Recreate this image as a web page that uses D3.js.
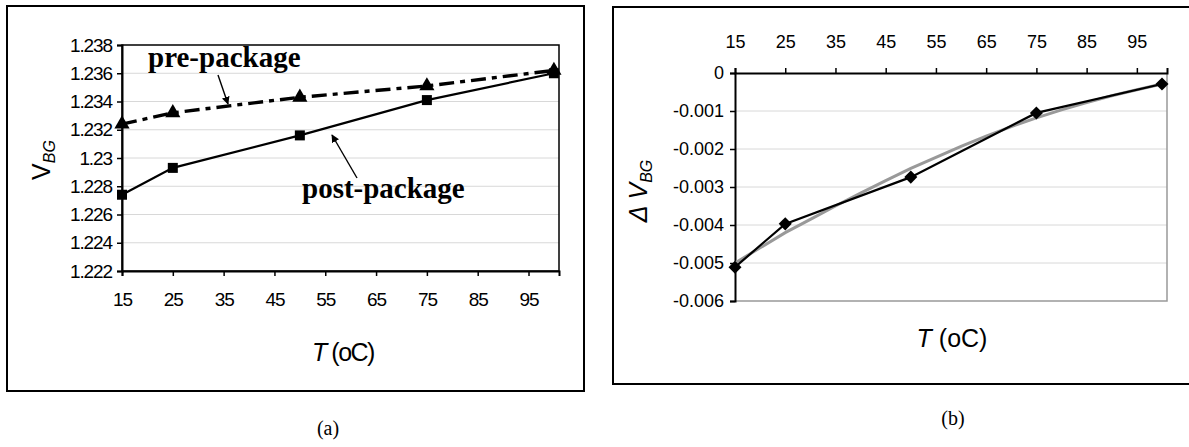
<!DOCTYPE html>
<html>
<head>
<meta charset="utf-8">
<script src="https://cdn.jsdelivr.net/npm/d3@7"></script>
<style>
  body { margin: 0; background: #fff; }
  svg { display: block; }
  .tick text { fill: #000; }
</style>
</head>
<body>
<div id="chart"></div>
<script>
// Chart data
const temps = [15, 25, 50, 75, 100];
const prePackage = [1.2324, 1.2332, 1.2343, 1.2351, 1.2362];
const postPackage = [1.2274, 1.2293, 1.2316, 1.2341, 1.2360];
const deltaVbg = [-0.00511, -0.00397, -0.00274, -0.00105, -0.00029];
// grey fitted curve
const fitTemps = [15, 20, 25, 30, 35, 40, 45, 50, 55, 60, 65, 70, 75, 80, 85, 90, 95, 100];
const fitVals = [-0.00500, -0.00460, -0.00420, -0.00385, -0.00350, -0.00316, -0.00283, -0.00251,
  -0.00222, -0.00193, -0.00166, -0.00141, -0.00118, -0.00097, -0.00078, -0.00060, -0.00044, -0.00029];
const xTicks = [15, 25, 35, 45, 55, 65, 75, 85, 95];
const yTicksA = [1.222, 1.224, 1.226, 1.228, 1.23, 1.232, 1.234, 1.236, 1.238];
const yTicksB = [-0.006, -0.005, -0.004, -0.003, -0.002, -0.001, 0];

const width = 1189;
const height = 447;

const svg = d3.select("#chart")
  .append("svg")
  .attr("width", width)
  .attr("height", height);

// outer frames
svg.append("rect").attr("x", 7).attr("y", 6).attr("width", 577).attr("height", 385)
  .attr("fill", "none").attr("stroke", "#000").attr("stroke-width", 2);
svg.append("rect").attr("x", 613).attr("y", 7).attr("width", 600).attr("height", 377)
  .attr("fill", "none").attr("stroke", "#000").attr("stroke-width", 2);

/*
  Panel (a)
*/
const pa = {left: 122, right: 559, top: 45, bottom: 271};
const xA = d3.scaleLinear().domain([15, 101]).range([pa.left, pa.right]);
const yA = d3.scaleLinear().domain([1.222, 1.238]).range([pa.bottom, pa.top]);

// gridlines
svg.append("g")
  .selectAll("line")
  .data(yTicksA.slice(1, -1))
  .join("line")
    .attr("x1", pa.left).attr("x2", pa.right)
    .attr("y1", d => yA(d)).attr("y2", d => yA(d))
    .attr("stroke", "#d8d8d8").attr("stroke-width", 1);

// plot frame
svg.append("rect").attr("x", pa.left).attr("y", pa.top)
  .attr("width", pa.right - pa.left).attr("height", pa.bottom - pa.top)
  .attr("fill", "none").attr("stroke", "#000").attr("stroke-width", 1.5);

const axAy = svg.append("g")
  .attr("transform", `translate(${pa.left},0)`)
  .call(d3.axisLeft(yA).tickValues(yTicksA).tickFormat(d3.format("")).tickSize(5).tickPadding(5));
axAy.select(".domain").attr("stroke-width", 2);
axAy.selectAll(".tick line").attr("stroke-width", 1.5);
axAy.selectAll("text").attr("font-family", "Liberation Sans, Arial").attr("font-size", 19)
  .attr("letter-spacing", "-1.1px");

const axAx = svg.append("g")
  .attr("transform", `translate(0,${pa.bottom})`)
  .call(d3.axisBottom(xA).tickValues(xTicks).tickSize(5).tickPadding(17));
axAx.select(".domain").attr("stroke-width", 2);
axAx.selectAll(".tick line").attr("stroke-width", 1.5);
axAx.selectAll("text").attr("font-family", "Liberation Sans, Arial").attr("font-size", 19)
  .attr("letter-spacing", "-1.1px");

const lineA = d3.line().x((d, i) => xA(temps[i])).y(d => yA(d));

svg.append("path").datum(prePackage)
  .attr("d", lineA).attr("fill", "none").attr("stroke", "#000")
  .attr("stroke-width", 3.4).attr("stroke-dasharray", "15,6,5,6");
svg.append("path").datum(postPackage)
  .attr("d", lineA).attr("fill", "none").attr("stroke", "#000").attr("stroke-width", 2.2);

svg.append("g").selectAll("path")
  .data(prePackage)
  .join("path")
    .attr("transform", (d, i) => `translate(${xA(temps[i])},${yA(d)})`)
    .attr("d", d3.symbol(d3.symbolTriangle, 100))
    .attr("fill", "#000");
svg.append("g").selectAll("rect")
  .data(postPackage)
  .join("rect")
    .attr("x", (d, i) => xA(temps[i]) - 5)
    .attr("y", d => yA(d) - 5)
    .attr("width", 10).attr("height", 10)
    .attr("fill", "#000");

// annotations
svg.append("text").attr("x", 148).attr("y", 67)
  .attr("font-family", "Liberation Serif, Times New Roman").attr("font-weight", "bold")
  .attr("font-size", 29).text("pre-package");
svg.append("text").attr("x", 302).attr("y", 198)
  .attr("font-family", "Liberation Serif, Times New Roman").attr("font-weight", "bold")
  .attr("font-size", 29).text("post-package");

svg.append("defs").append("marker")
  .attr("id", "arrow").attr("viewBox", "0 0 10 10").attr("refX", 9).attr("refY", 5)
  .attr("markerWidth", 8).attr("markerHeight", 8).attr("markerUnits", "userSpaceOnUse")
  .attr("orient", "auto")
  .append("path").attr("d", "M0,0L10,5L0,10Z").attr("fill", "#000");
svg.append("line").attr("x1", 218).attr("y1", 75).attr("x2", 228).attr("y2", 104)
  .attr("stroke", "#000").attr("stroke-width", 1.4).attr("marker-end", "url(#arrow)");
svg.append("line").attr("x1", 357).attr("y1", 178).attr("x2", 332).attr("y2", 135)
  .attr("stroke", "#000").attr("stroke-width", 1.4).attr("marker-end", "url(#arrow)");

// axis titles
const yLabA = svg.append("text")
  .attr("transform", "translate(50,160) rotate(-90)")
  .attr("text-anchor", "middle")
  .attr("font-family", "Liberation Sans, Arial").attr("font-size", 25);
yLabA.append("tspan").text("V");
yLabA.append("tspan").attr("font-size", 16).attr("font-style", "italic").attr("dy", 5).text("BG");

const xLabA = svg.append("text").attr("x", 343).attr("y", 361)
  .attr("text-anchor", "middle").attr("letter-spacing", "-1.5px")
  .attr("font-family", "Liberation Sans, Arial").attr("font-size", 25);
xLabA.append("tspan").attr("font-style", "italic").text("T");
xLabA.append("tspan").text(" (oC)");

svg.append("text").attr("x", 328).attr("y", 435).attr("text-anchor", "middle")
  .attr("font-family", "Liberation Serif, Times New Roman").attr("font-size", 20).text("(a)");

/*
  Panel (b)
*/
const pb = {left: 735, right: 1167, top: 73, bottom: 301};
const xB = d3.scaleLinear().domain([15, 101]).range([pb.left, pb.right]);
const yB = d3.scaleLinear().domain([-0.006, 0]).range([pb.bottom, pb.top]);

svg.append("g")
  .selectAll("line")
  .data(yTicksB.slice(1, -1))
  .join("line")
    .attr("x1", pb.left).attr("x2", pb.right)
    .attr("y1", d => yB(d)).attr("y2", d => yB(d))
    .attr("stroke", "#d8d8d8").attr("stroke-width", 1);

// grey right and bottom frame
svg.append("path")
  .attr("d", `M${pb.right},${pb.top}V${pb.bottom}H${pb.left}`)
  .attr("fill", "none").attr("stroke", "#999").attr("stroke-width", 1.5);

const axBy = svg.append("g")
  .attr("transform", `translate(${pb.left},0)`)
  .call(d3.axisLeft(yB).tickValues(yTicksB).tickFormat(d => d === 0 ? "0" : d3.format(".3f")(d).replace("−", "-"))
    .tickSize(5).tickPadding(6));
axBy.select(".domain").attr("stroke-width", 2);
axBy.selectAll(".tick line").attr("stroke-width", 1.5);
axBy.selectAll("text").attr("font-family", "Liberation Sans, Arial").attr("font-size", 18);

const axBx = svg.append("g")
  .attr("transform", `translate(0,${pb.top})`)
  .call(d3.axisTop(xB).tickValues(xTicks).tickSize(5).tickPadding(20));
axBx.select(".domain").attr("stroke-width", 2);
axBx.selectAll(".tick line").attr("stroke-width", 1.5);
axBx.selectAll("text").attr("font-family", "Liberation Sans, Arial").attr("font-size", 18);

svg.append("path").datum(fitVals)
  .attr("d", d3.line().x((d, i) => xB(fitTemps[i])).y(d => yB(d)))
  .attr("fill", "none").attr("stroke", "#999").attr("stroke-width", 3);
svg.append("path").datum(deltaVbg)
  .attr("d", d3.line().x((d, i) => xB(temps[i])).y(d => yB(d)))
  .attr("fill", "none").attr("stroke", "#000").attr("stroke-width", 2.2);
svg.append("g").selectAll("path")
  .data(deltaVbg)
  .join("path")
    .attr("transform", (d, i) => `translate(${xB(temps[i])},${yB(d)}) rotate(45)`)
    .attr("d", d3.symbol(d3.symbolSquare, 85))
    .attr("fill", "#000");

const yLabB = svg.append("text")
  .attr("transform", "translate(647,191) rotate(-90)")
  .attr("text-anchor", "middle")
  .attr("font-family", "Liberation Sans, Arial").attr("font-size", 25);
yLabB.append("tspan").attr("font-style", "italic").text("Δ V");
yLabB.append("tspan").attr("font-size", 16).attr("font-style", "italic").attr("dy", 5).text("BG");

const xLabB = svg.append("text").attr("x", 952).attr("y", 347)
  .attr("text-anchor", "middle")
  .attr("font-family", "Liberation Sans, Arial").attr("font-size", 25);
xLabB.append("tspan").attr("font-style", "italic").text("T");
xLabB.append("tspan").text(" (oC)");

svg.append("text").attr("x", 953).attr("y", 425).attr("text-anchor", "middle")
  .attr("font-family", "Liberation Serif, Times New Roman").attr("font-size", 20).text("(b)");
</script>
</body>
</html>
